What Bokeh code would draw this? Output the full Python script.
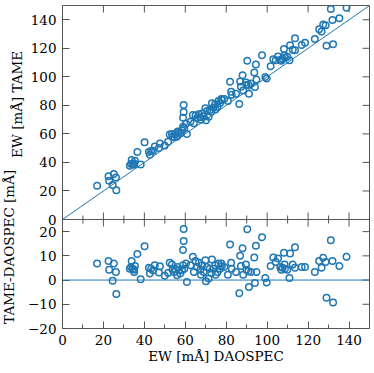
import math
from bokeh.plotting import figure
from bokeh.models import (Range1d, LinearAxis, FixedTicker, Slope, Span,
                          ColumnDataSource, CustomJSTickFormatter)
from bokeh.core.properties import value
from bokeh.layouts import row
from bokeh.embed import file_html
from bokeh.resources import INLINE

# ---- data ----
daospec = [16.9, 22.5, 22.8, 25.1, 24.5, 26.1, 26.3, 32.9, 33.8, 33.5, 34.3, 35.0, 35.4, 35.0,
           36.6, 38.2, 40.1, 42.2, 43.3, 42.7, 44.2, 45.1, 47.1, 47.6, 50.0, 51.6, 52.4, 53.5,
           53.8, 54.6, 55.1, 56.0, 56.3, 56.8, 57.6, 58.4, 59.2, 59.2, 58.9, 58.9, 59.5, 60.8,
           60.4, 62.5, 64.2, 63.7, 65.0, 65.8, 66.6, 67.4, 67.7, 68.2, 69.0, 69.8, 70.1, 70.6,
           71.4, 71.9, 72.7, 73.0, 73.8, 74.6, 74.9, 75.8, 76.2, 77.0, 77.6, 77.9, 79.1, 80.8,
           81.9, 82.4, 82.7, 84.8, 86.8, 86.4, 87.2, 88.0, 88.3, 89.6, 89.9, 90.3, 90.8, 91.1,
           92.1, 93.7, 94.0, 94.5, 94.8, 97.5, 99.1, 99.8, 101.7, 103.0, 104.2, 105.3, 106.4,
           106.9, 107.5, 108.2, 108.5, 108.7, 109.8, 110.9, 111.2, 112.5, 113.6, 113.6, 116.9,
           118.5, 123.3, 125.4, 126.6, 127.4, 128.6, 129.0, 131.1, 131.9, 132.2, 135.3, 138.8]
tame = [23.7, 30.4, 27.1, 31.9, 24.2, 29.4, 20.5, 37.6, 41.7, 38.9, 39.0, 39.3, 41.2, 38.3,
        47.4, 38.5, 54.1, 47.3, 48.0, 45.4, 48.2, 51.2, 50.2, 53.3, 51.8, 54.5, 59.5, 59.9,
        58.1, 57.9, 59.8, 58.0, 61.7, 60.8, 60.3, 62.4, 80.3, 75.3, 71.3, 65.0, 64.2, 60.0,
        67.2, 68.6, 67.5, 73.3, 72.9, 71.2, 73.7, 71.7, 69.9, 74.3, 72.3, 78.0, 69.6, 76.0,
        72.0, 76.6, 75.6, 81.5, 78.5, 80.7, 77.1, 79.1, 83.0, 81.7, 84.4, 83.7, 84.5, 83.0,
        96.6, 89.5, 87.4, 88.1, 96.8, 81.0, 93.0, 101.1, 90.5, 96.0, 94.2, 111.3, 94.4, 88.2,
        95.4, 103.0, 92.8, 108.7, 98.1, 115.2, 99.9, 98.8, 107.5, 112.3, 111.7, 114.2, 111.8,
        111.2, 112.6, 119.5, 114.9, 113.4, 114.1, 111.7, 122.2, 118.9, 127.1, 118.7, 122.3,
        123.9, 126.6, 133.3, 131.7, 136.6, 136.1, 121.7, 147.5, 139.8, 122.9, 141.1, 148.4]
diff = [6.8, 7.9, 4.3, 6.8, -0.3, 3.3, -5.8, 4.7, 7.9, 5.4, 4.7, 4.3, 5.8, 3.3,
        10.8, 0.3, 14.0, 5.1, 4.7, 2.7, 4.0, 6.1, 3.1, 5.7, 1.8, 2.9, 7.1, 6.4,
        4.3, 3.3, 4.7, 2.0, 5.4, 4.0, 2.7, 4.0, 21.1, 16.1, 12.4, 6.1, 4.7, -0.8,
        6.8, 6.1, 3.3, 9.6, 7.9, 5.4, 7.1, 4.3, 2.2, 6.1, 3.3, 8.2, -0.5, 5.4,
        0.6, 4.7, 2.9, 8.5, 4.7, 6.1, 2.2, 3.3, 6.8, 4.7, 6.8, 5.8, 5.4, 2.2,
        14.7, 7.1, 4.7, 3.3, 10.0, -5.4, 5.8, 13.1, 2.2, 6.4, 4.3, 21.0, 3.6, -2.9,
        3.3, 9.3, -1.2, 14.2, 3.3, 17.7, 0.8, -1.0, 5.8, 9.3, 7.5, 8.9, 5.4,
        4.3, 5.1, 11.3, 6.4, 4.7, 4.3, 0.8, 11.0, 6.4, 13.5, 5.1, 5.4,
        5.4, 3.3, 7.9, 5.1, 9.2, 7.5, -7.3, 16.4, 7.9, -9.3, 5.8, 9.6]

x_major = [0, 20, 40, 60, 80, 100, 120, 140]
x_minor = [10, 30, 50, 70, 90, 110, 130]
top_y_ticks = [0, 20, 40, 60, 80, 100, 120, 140]
bot_y_ticks = [-20, -10, 0, 10, 20]
x_lim = (0, 150)
top_lim = (0, 150)
bot_lim = (-20, 25)

label_top = "EW [mÅ] TAME"
label_bot = "TAME-DAOSPEC [mÅ]"
label_x = "EW [mÅ] DAOSPEC"

# ---- style / layout ----
BLUE = "#1f77b4"
FONT = "DejaVu Serif"
FS = "13.5px"
EDGE = "#555555"

STRIP_W = 25
TOTAL_W = 372
H = 366
BORDER_L = 35
BORDER_R = 3
BORDER_T = 5
BORDER_B = 38
FRAME_W = TOTAL_W - STRIP_W - BORDER_L - BORDER_R
FRAME_H = H - BORDER_T - BORDER_B
TOP_H = 214
BOT_H = FRAME_H - TOP_H
MAJ = 7
MIN = 4

u_x = (x_lim[1] - x_lim[0]) / FRAME_W        # data units per pixel, x
u_t = (top_lim[1] - top_lim[0]) / TOP_H      # data units per pixel, upper panel
u_b = (bot_lim[1] - bot_lim[0]) / BOT_H      # data units per pixel, lower panel
main_start = top_lim[0] - BOT_H * u_t
res_end = bot_lim[1] + TOP_H * u_b
conv = u_t / u_b      # main-range units per residual unit


def res_to_main(r):
    return main_start + (r - bot_lim[0]) * conv


left_ticks = [res_to_main(r) for r in bot_y_ticks] + top_y_ticks

p = figure(width=TOTAL_W - STRIP_W, height=H,
           x_range=Range1d(*x_lim), y_range=Range1d(main_start, top_lim[1]),
           output_backend="svg", toolbar_location=None,
           min_border_left=BORDER_L, min_border_right=BORDER_R, min_border_top=BORDER_T,
           min_border_bottom=BORDER_B, x_axis_type=None, y_axis_type=None)
p.extra_y_ranges = {"res": Range1d(bot_lim[0], res_end)}
p.xgrid.visible = False
p.ygrid.visible = False
p.outline_line_color = EDGE
p.outline_line_width = 1


def style_axis(ax, minor=False, standoff=7):
    ax.axis_line_color = None
    ax.major_tick_in = MAJ
    ax.major_tick_out = 0
    ax.major_tick_line_color = EDGE
    ax.minor_tick_in = MIN if minor else 0
    ax.minor_tick_out = 0
    ax.minor_tick_line_color = EDGE if minor else None
    ax.major_label_text_font = FONT
    ax.major_label_text_font_size = FS
    ax.major_label_text_color = "black"
    ax.major_label_standoff = standoff
    ax.axis_label_text_font = FONT
    ax.axis_label_text_font_size = FS
    ax.axis_label_text_font_style = "normal"
    ax.axis_label_text_color = "black"


bx = LinearAxis(ticker=FixedTicker(ticks=x_major, minor_ticks=x_minor))
style_axis(bx, minor=True, standoff=6)
bx.axis_label = label_x
bx.axis_label_standoff = 0
p.add_layout(bx, "below")

fmt = CustomJSTickFormatter(args=dict(ms=main_start, c=conv, b0=bot_lim[0]), code="""
    if (tick > -1e-6) return tick.toFixed(0);
    const r = Math.round(b0 + (tick - ms) / c);
    return r < 0 ? "\\u2212" + Math.abs(r) : String(r);
""")
ly = LinearAxis(ticker=FixedTicker(ticks=left_ticks, minor_ticks=[]), formatter=fmt)
style_axis(ly, standoff=6)
p.add_layout(ly, "left")

# inward ticks on the unlabelled edges (top, right, and the panel boundary)
n_maj, n_min = len(x_major), len(x_minor)
tick_kw = dict(line_color=EDGE, line_width=1)
top_edge = ColumnDataSource(dict(x=x_major, y0=[top_lim[1]] * n_maj,
                                 y1=[top_lim[1] - MAJ * u_t] * n_maj))
p.segment(x0="x", y0="y0", x1="x", y1="y1", source=top_edge, **tick_kw)
right_top = ColumnDataSource(dict(y=top_y_ticks, x0=[x_lim[1]] * len(top_y_ticks),
                                  x1=[x_lim[1] - MAJ * u_x] * len(top_y_ticks)))
p.segment(x0="x0", y0="y", x1="x1", y1="y", source=right_top, **tick_kw)
right_bot = ColumnDataSource(dict(y=bot_y_ticks, x0=[x_lim[1]] * len(bot_y_ticks),
                                  x1=[x_lim[1] - MAJ * u_x] * len(bot_y_ticks)))
p.segment(x0="x0", y0="y", x1="x1", y1="y", source=right_bot, y_range_name="res", **tick_kw)

p.add_layout(Span(location=top_lim[0], dimension="width", line_color=EDGE, line_width=1))
mid_up = ColumnDataSource(dict(
    x=x_major + x_minor, y0=[top_lim[0]] * (n_maj + n_min),
    y1=[top_lim[0] + MAJ * u_t] * n_maj + [top_lim[0] + MIN * u_t] * n_min))
p.segment(x0="x", y0="y0", x1="x", y1="y1", source=mid_up, **tick_kw)
mid_dn = ColumnDataSource(dict(
    x=x_major + x_minor, y0=[bot_lim[1]] * (n_maj + n_min),
    y1=[bot_lim[1] - MAJ * u_b] * n_maj + [bot_lim[1] - MIN * u_b] * n_min))
p.segment(x0="x", y0="y0", x1="x", y1="y1", source=mid_dn, y_range_name="res", **tick_kw)

# marks
src = ColumnDataSource(dict(x=daospec, y=tame, d=diff))
p.add_layout(Slope(gradient=1, y_intercept=0, line_color=BLUE, line_width=1))
p.scatter("x", "y", source=src, marker="circle", size=6.5, fill_color=None,
          line_color=BLUE, line_width=1.5)
p.add_layout(Span(location=0, dimension="width", line_color=BLUE, line_width=1,
                  y_range_name="res"))
p.scatter("x", "d", source=src, marker="circle", size=6.5, fill_color=None,
          line_color=BLUE, line_width=1.5, y_range_name="res")

# strip holding the two y-axis titles, each centred on its panel
s = figure(width=STRIP_W, height=H, x_range=Range1d(0, STRIP_W), y_range=Range1d(0, H),
           output_backend="svg", toolbar_location=None, min_border=0,
           x_axis_type=None, y_axis_type=None)
s.xgrid.visible = False
s.ygrid.visible = False
s.outline_line_color = None
title_src = ColumnDataSource(dict(
    x=[16.8, 8.6],
    y=[H - BORDER_T - TOP_H / 2, H - BORDER_T - TOP_H - BOT_H / 2],
    t=[label_top, label_bot]))
s.text(x="x", y="y", text="t", source=title_src, angle=math.pi / 2,
       text_align="center", text_baseline="middle",
       text_font=value(FONT), text_font_size=value(FS), text_color="black")

layout = row(s, p, spacing=0)
open("out.html", "w").write(file_html(layout, INLINE))
